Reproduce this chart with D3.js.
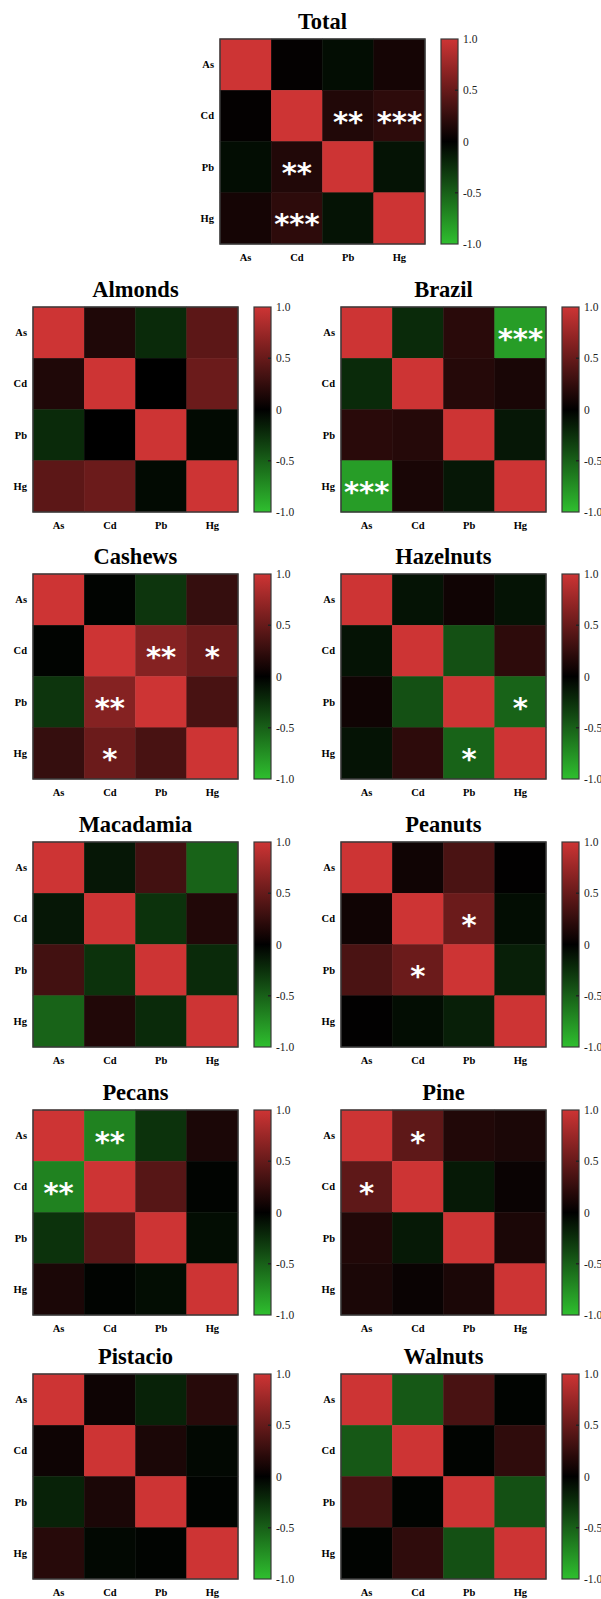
<!DOCTYPE html>
<html>
<head>
<meta charset="utf-8">
<script src="https://cdn.jsdelivr.net/npm/d3@7"></script>
<style>
  body { margin: 0; background: #fff; }
  svg { display: block; }
</style>
</head>
<body>
<svg id="main_svg" width="601" height="1599"></svg>
<script>
// element order, rows and columns
var elements = ["As", "Cd", "Pb", "Hg"];
var panelNames = ["Total", "Almonds", "Brazil", "Cashews", "Hazelnuts", "Macadamia",
                  "Peanuts", "Pecans", "Pine", "Pistacio", "Walnuts"];
var cbTicks = [1, 0.5, 0, -0.5, -1];

// correlation matrices
var total = [
  [1, 0.02, -0.07, 0.10],
  [0.02, 1, 0.16, 0.22],
  [-0.07, 0.16, 1, -0.10],
  [0.10, 0.22, -0.10, 1]];
var almonds = [
  [1, 0.15, -0.22, 0.45],
  [0.15, 1, 0.0, 0.52],
  [-0.22, 0.0, 1, -0.05],
  [0.45, 0.52, -0.05, 1]];
var brazil = [
  [1, -0.22, 0.20, -0.82],
  [-0.22, 1, 0.18, 0.12],
  [0.20, 0.18, 1, -0.12],
  [-0.82, 0.12, -0.12, 1]];
var cashews = [
  [1, -0.02, -0.28, 0.26],
  [-0.02, 1, 0.65, 0.52],
  [-0.28, 0.65, 1, 0.35],
  [0.26, 0.52, 0.35, 1]];
var hazelnuts = [
  [1, -0.10, 0.08, -0.10],
  [-0.10, 1, -0.42, 0.22],
  [0.08, -0.42, 1, -0.52],
  [-0.10, 0.22, -0.52, 1]];
var macadamia = [
  [1, -0.12, 0.32, -0.52],
  [-0.12, 1, -0.26, 0.16],
  [0.32, -0.26, 1, -0.22],
  [-0.52, 0.16, -0.22, 1]];
var peanuts = [
  [1, 0.08, 0.36, 0.01],
  [0.08, 1, 0.52, -0.07],
  [0.36, 0.52, 1, -0.16],
  [0.01, -0.07, -0.16, 1]];
var pecans = [
  [1, -0.68, -0.26, 0.13],
  [-0.68, 1, 0.42, -0.02],
  [-0.26, 0.42, 1, -0.07],
  [0.13, -0.02, -0.07, 1]];
var pine = [
  [1, 0.46, 0.16, 0.13],
  [0.46, 1, -0.13, 0.05],
  [0.16, -0.13, 1, 0.13],
  [0.13, 0.05, 0.13, 1]];
var pistacio = [
  [1, 0.07, -0.18, 0.19],
  [0.07, 1, 0.13, -0.04],
  [-0.18, 0.13, 1, -0.02],
  [0.19, -0.04, -0.02, 1]];
var walnuts = [
  [1, -0.46, 0.35, -0.02],
  [-0.46, 1, -0.02, 0.23],
  [0.35, -0.02, 1, -0.42],
  [-0.02, 0.23, -0.42, 1]];

// significance marks
var totalStars = [["", "", "", ""], ["", "", "**", "***"], ["", "**", "", ""], ["", "***", "", ""]];
var brazilStars = [["", "", "", "***"], ["", "", "", ""], ["", "", "", ""], ["***", "", "", ""]];
var cashewsStars = [["", "", "", ""], ["", "", "**", "*"], ["", "**", "", ""], ["", "*", "", ""]];
var hazelnutsStars = [["", "", "", ""], ["", "", "", ""], ["", "", "", "*"], ["", "", "*", ""]];
var peanutsStars = [["", "", "", ""], ["", "", "*", ""], ["", "*", "", ""], ["", "", "", ""]];
var pecansStars = [["", "**", "", ""], ["**", "", "", ""], ["", "", "", ""], ["", "", "", ""]];
var pineStars = [["", "*", "", ""], ["*", "", "", ""], ["", "", "", ""], ["", "", "", ""]];
var noStars = [["", "", "", ""], ["", "", "", ""], ["", "", "", ""], ["", "", "", ""]];

var matrices = [total, almonds, brazil, cashews, hazelnuts, macadamia,
                peanuts, pecans, pine, pistacio, walnuts];
var stars = [totalStars, noStars, brazilStars, cashewsStars, hazelnutsStars, noStars,
             peanutsStars, pecansStars, pineStars, noStars, noStars];

var size = 205;
var color = d3.scaleLinear()
  .domain([-1, 0, 1])
  .range(["#2fbf2f", "#000000", "#cd3434"]);

var svg = d3.select('#main_svg');

// shared gradient for colour bars
var grad = svg.append("defs").append("linearGradient")
  .attr("id", "cbgrad")
  .attr("x1", 0).attr("y1", 1).attr("x2", 0).attr("y2", 0);
d3.range(0, 1.0001, 0.05).forEach(function(t){
  grad.append("stop")
    .attr("offset", t)
    .attr("stop-color", color(-1 + 2 * t));
});

function fmt(d){
  if (d === 0) return "0";
  return d3.format(".1f")(d).replace("\u2212", "-");
}

function drawPanel(k, x0, y0){
  var g = svg.append("g").attr("transform", "translate(" + x0 + "," + y0 + ")");
  var x = d3.scaleBand().domain(elements).range([0, size]);
  var y = d3.scaleBand().domain(elements).range([0, size]);

  var cells = [];
  for (var i = 0; i < 4; i++){
    for (var j = 0; j < 4; j++){
      cells.push({'row': elements[i], 'col': elements[j],
                  'v': matrices[k][i][j], 's': stars[k][i][j]});
    }
  }

  g.selectAll("rect.cell")
    .data(cells)
    .enter()
    .append("rect")
    .attr("class", "cell")
    .attr("x", function(d){ return x(d.col); })
    .attr("y", function(d){ return y(d.row); })
    .attr("width", x.bandwidth())
    .attr("height", y.bandwidth())
    .attr("fill", function(d){ return color(d.v); })
    .attr("stroke", function(d){ return color(d.v); })
    .attr("stroke-width", 0.5);

  g.selectAll("text.star")
    .data(cells.filter(function(d){ return d.s !== ""; }))
    .enter()
    .append("text")
    .attr("class", "star")
    .attr("x", function(d){ return x(d.col) + x.bandwidth() / 2; })
    .attr("y", function(d){ return y(d.row) + y.bandwidth() / 2 + 16; })
    .attr("text-anchor", "middle")
    .attr("fill", "#ffffff")
    .style("font-family", "DejaVu Sans")
    .style("font-weight", "bold")
    .style("font-size", "29px")
    .text(function(d){ return d.s; });

  g.append("rect")
    .attr("width", size).attr("height", size)
    .attr("fill", "none")
    .attr("stroke", "#3a3a3a")
    .attr("stroke-width", 1.5);

  // element labels
  g.selectAll("text.xl")
    .data(elements)
    .enter()
    .append("text")
    .attr("class", "xl")
    .attr("x", function(d){ return x(d) + x.bandwidth() / 2; })
    .attr("y", size + 17)
    .attr("text-anchor", "middle")
    .style("font-family", "Liberation Serif")
    .style("font-weight", "bold")
    .style("font-size", "10.5px")
    .text(function(d){ return d; });

  g.selectAll("text.yl")
    .data(elements)
    .enter()
    .append("text")
    .attr("class", "yl")
    .attr("x", -6)
    .attr("y", function(d){ return y(d) + y.bandwidth() / 2 + 3.5; })
    .attr("text-anchor", "end")
    .style("font-family", "Liberation Serif")
    .style("font-weight", "bold")
    .style("font-size", "10.5px")
    .text(function(d){ return d; });

  // title
  g.append("text")
    .attr("x", size / 2)
    .attr("y", -10)
    .attr("text-anchor", "middle")
    .style("font-family", "Liberation Serif")
    .style("font-weight", "bold")
    .style("font-size", "22.5px")
    .text(panelNames[k]);

  // colour bar
  var cbx = size + 16, cbw = 17;
  var cy = d3.scaleLinear().domain([-1, 1]).range([size, 0]);
  g.append("rect")
    .attr("x", cbx).attr("y", 0)
    .attr("width", cbw).attr("height", size)
    .attr("fill", "url(#cbgrad)")
    .attr("stroke", "#3a3a3a")
    .attr("stroke-width", 1.2);

  var axis = d3.axisRight(cy)
    .tickValues(cbTicks)
    .tickSize(0)
    .tickPadding(5)
    .tickFormat(fmt);
  var ag = g.append("g")
    .attr("transform", "translate(" + (cbx + cbw) + ",0)")
    .call(axis);
  ag.select(".domain").remove();
  ag.selectAll("text")
    .style("font-family", "Liberation Serif")
    .style("font-size", "11.5px")
    .attr("fill", "#222");

  g.selectAll("line.cbtick")
    .data([0.5, -0.5])
    .enter()
    .append("line")
    .attr("class", "cbtick")
    .attr("x1", cbx + cbw - 3).attr("x2", cbx + cbw)
    .attr("y1", function(d){ return cy(d); })
    .attr("y2", function(d){ return cy(d); })
    .attr("stroke", "#222")
    .attr("stroke-width", 1.5);
}

var rowTop = [39, 307, 574, 842, 1110, 1374];
drawPanel(0, 220, rowTop[0]);
for (var k = 1; k < panelNames.length; k++){
  var r = Math.floor((k - 1) / 2) + 1;
  var c = (k - 1) % 2;
  drawPanel(k, c === 0 ? 33 : 341, rowTop[r]);
}
</script>
</body>
</html>
